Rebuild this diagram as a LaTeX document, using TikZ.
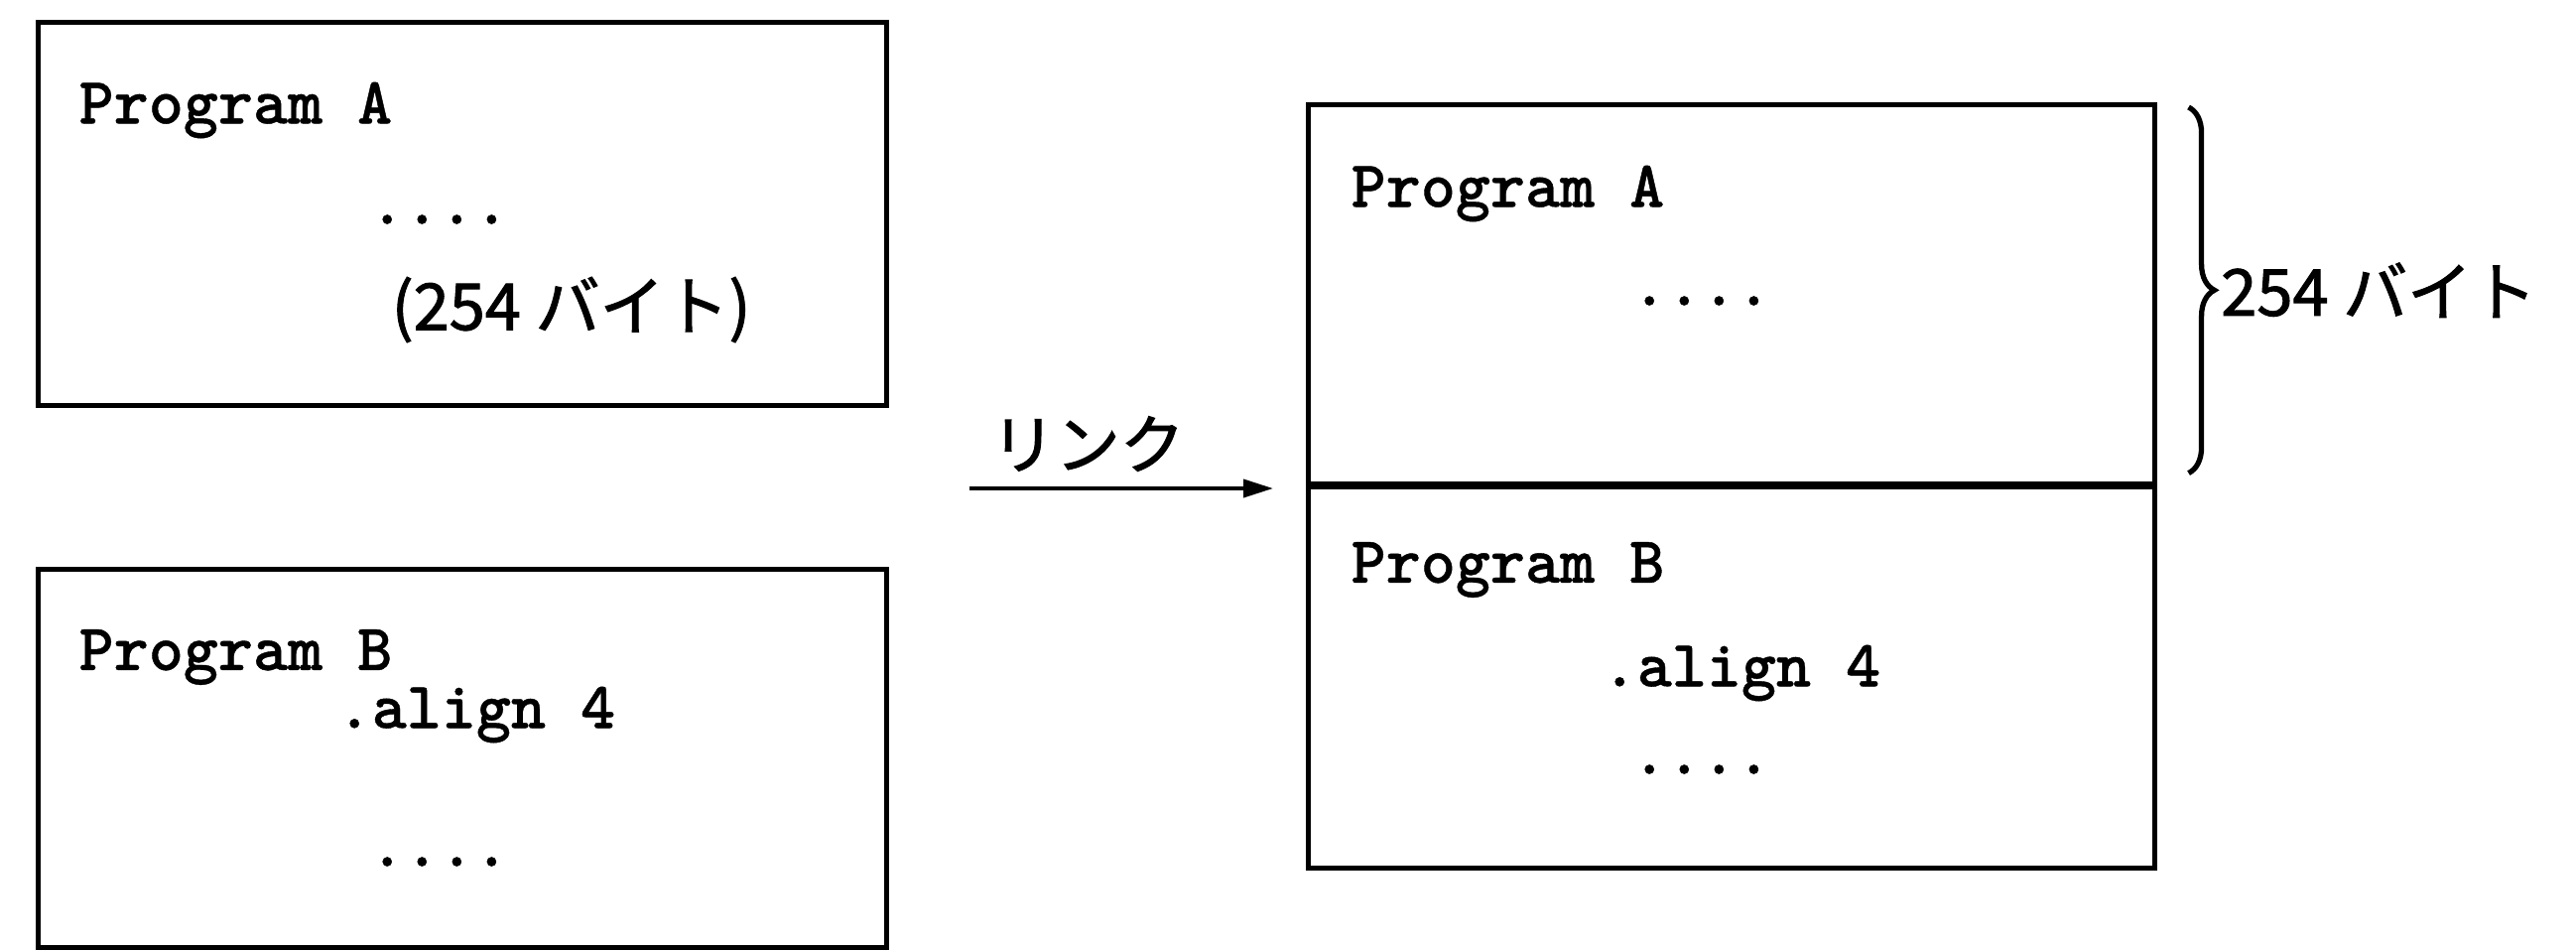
\documentclass[tikz,border=0pt]{standalone}
\usepackage{fontspec}
\newfontfamily\codefont{lmmono10-regular}[Extension=.otf, BoldFont=lmmonolt10-bold, BoldFeatures={FakeBold=0.6}]
\newfontfamily\jpfont[FakeBold=1.6]{Noto Sans CJK JP}
\usetikzlibrary{arrows.meta,decorations.pathreplacing}
\tikzset{
  progbox/.style={draw, line width=1.3pt, inner sep=0pt, anchor=north west},
  code/.style={inner sep=0pt, anchor=west, font=\fontsize{19}{22}\selectfont\codefont\bfseries},
  jp/.style={inner sep=0pt, font=\fontsize{18.5}{21}\selectfont\jpfont},
  link/.style={-{Triangle[length=0.3cm,width=0.18cm]}, line width=1.1pt},
}
\begin{document}
\begin{tikzpicture}
\useasboundingbox (0,0) rectangle (25.96,-9.57);
\fill[white] (0,0) rectangle (25.96,-9.57);

% separate programs
\node[progbox, minimum width=8.55cm, minimum height=3.86cm] (boxA) at (0.36,-0.20) {};
\node[code] (tA1) at (0.79,-1.11) {Program A};
\node[code] (tA2) at (3.72,-2.21) {....};
\node[jp, anchor=west] (tA3) at (3.94,-3.12) {(254 バイト)};

\node[progbox, minimum width=8.55cm, minimum height=3.81cm] (boxB) at (0.36,-5.71) {};
\node[code] (tB1) at (0.79,-6.62) {Program B};
\node[code] (tB2) at (3.39,-7.20) {.align 4};
\node[code] (tB3) at (3.72,-8.68) {....};

% linked result
\node[progbox, minimum width=8.53cm, minimum height=3.82cm] (linkA) at (13.16,-1.03) {};
\node[progbox, minimum width=8.53cm, minimum height=3.87cm] (linkB) at (13.16,-4.85) {};
\draw[line width=1.7pt] (linkA.south west) -- (linkA.south east);
\node[code] (rA1) at (13.61,-1.95) {Program A};
\node[code] (rA2) at (16.44,-3.03) {....};
\node[code] (rB1) at (13.61,-5.74) {Program B};
\node[code] (rB2) at (16.14,-6.78) {.align 4};
\node[code] (rB3) at (16.44,-7.75) {....};

% size of program A
\draw[decorate, decoration={brace, amplitude=0.26cm}, line width=1.5pt]
  ([xshift=0.32cm,yshift=-0.05cm]linkA.north east) -- ([xshift=0.32cm,yshift=0.13cm]linkA.south east)
  coordinate[midway, xshift=0.28cm] (bracetip);
\node[jp, anchor=west] (size) at ([xshift=0.04cm]bracetip) {254 バイト};

% link arrow
\coordinate (linkend) at ([xshift=-0.33cm,yshift=-0.07cm]linkB.north west);
\coordinate (linkstart) at (9.77,-4.92);
\draw[link] (linkstart) -- (linkend);
\node[jp, anchor=west] (linklabel) at (9.98,-4.47) {リンク};
\end{tikzpicture}
\end{document}
